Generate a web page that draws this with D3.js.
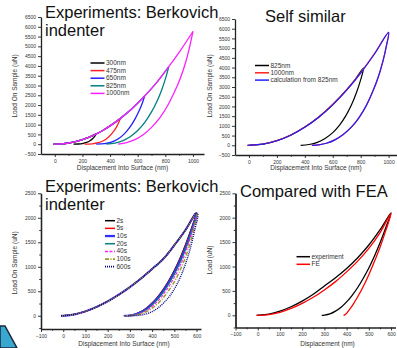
<!DOCTYPE html>
<html><head><meta charset="utf-8">
<script src="https://cdn.jsdelivr.net/npm/d3@7"></script>
<style>
body{margin:0;background:#fff;}
svg{display:block;font-family:"Liberation Sans",Arial,sans-serif;}
</style></head>
<body><svg id="c" width="397" height="348"></svg>
<script>
// ---------- DATA ----------
// Panel 1: Experiments, different max depths
const p1Names = ["300nm","475nm","650nm","825nm","1000nm"];
const p1Colors = ["#000000","#ff2020","#2020ff","#008080","#ff20ff"];
const p1Loading = [[-10,0],[0,3],[50,18],[100,62],[150,135],[200,235],[250,365],[300,525],[350,715],[400,935],[475,1320],[550,1760],[650,2460],[740,3170],[825,3960],[910,4800],[1000,5760]];
const p1MaxDepth = [300,475,650,825,1000];
const p1Unload300 = [[300,525],[290,410],[275,290],[255,180],[230,90],[200,35],[170,10],[135,0]];
const p1Unload475 = [[475,1320],[462,1100],[445,860],[420,600],[390,370],[355,190],[315,75],[270,18],[215,0]];
const p1Unload650 = [[650,2460],[635,2130],[612,1730],[580,1280],[545,880],[505,540],[460,280],[410,110],[360,30],[300,0]];
const p1Unload825 = [[825,3960],[805,3440],[775,2800],[740,2200],[700,1650],[650,1100],[600,700],[545,380],[490,170],[435,50],[372,0]];
const p1Unload1000 = [[1000,5760],[980,5100],[950,4250],[910,3400],[865,2650],[815,1950],[760,1350],[700,860],[640,480],[580,230],[520,80],[458,0]];
const p1Unloads = [p1Unload300,p1Unload475,p1Unload650,p1Unload825,p1Unload1000];

// Panel 2: self similar
const p2Names = ["825nm","1000nm","calculation from 825nm"];
const p2Colors = ["#000000","#ff2020","#2020ff"];
const p2Black = [[-10,0],[0,3],[100,62],[200,240],[300,530],[400,940],[500,1460],[600,2100],[700,2860],[760,3380],[820,3980],[800,3380],[770,2720],[735,2100],[695,1540],[650,1050],[600,650],[545,350],[490,150],[430,40],[370,0]];
const p2Red = [[-10,0],[0,3],[100,62],[200,240],[300,530],[400,940],[500,1460],[600,2100],[700,2860],[800,3740],[900,4730],[1000,5820],[985,5150],[960,4350],[925,3500],[885,2750],[840,2050],[790,1450],[735,950],[675,560],[615,280],[555,105],[500,25],[450,0]];
const p2Blue = [[-10,0],[0,2],[100,58],[200,232],[300,520],[400,925],[500,1440],[600,2080],[700,2840],[800,3720],[900,4710],[1000,5810],[985,5140],[960,4340],[925,3490],[885,2740],[840,2040],[790,1440],[735,945],[675,555],[615,278],[555,104],[500,25],[452,0]];
const p2Series = [p2Black,p2Red,p2Blue];

// Panel 3: hold times
const p3Names = ["2s","5s","10s","20s","40s","100s","600s"];
const p3Colors = ["#000000","#ff0000","#3030ff","#008080","#ff20ff","#9a9a20","#000090"];
const p3Dash = [null,null,null,null,"3,1.5","4,1.5,1,1.5","1,1"];
const p3Width = [1.2,1.2,2,1.2,1.2,1.4,1.4];
const p3Loading = [[-10,0],[0,2],[50,28],[100,90],[150,180],[200,295],[250,430],[300,585],[350,760],[400,955],[450,1160],[500,1440],[550,1750],[597,2090]];
const p3Unload2 = [[598,2090],[575,1760],[550,1450],[525,1170],[500,930],[475,720],[450,540],[425,385],[400,260],[375,160],[350,85],[325,35],[300,8],[272,0]];
const p3Unload5 = [[599,2090],[577,1760],[552,1450],[527,1170],[502,930],[477,720],[452,540],[427,385],[402,260],[377,160],[352,85],[327,35],[302,8],[274,0]];
const p3Unload10 = [[600,2088],[579,1760],[555,1450],[530,1170],[505,930],[480,720],[455,540],[430,385],[405,260],[380,160],[355,85],[330,35],[305,8],[276,0]];
const p3Unload20 = [[600,2086],[580,1750],[557,1440],[533,1160],[508,920],[483,710],[458,530],[433,380],[408,255],[383,155],[358,82],[333,33],[308,8],[278,0]];
const p3Unload40 = [[601,2085],[582,1740],[560,1420],[537,1140],[513,900],[488,690],[463,515],[438,365],[413,245],[388,150],[362,78],[336,30],[310,7],[280,0]];
const p3Unload100 = [[602,2083],[585,1720],[565,1390],[543,1110],[520,870],[496,660],[471,490],[446,345],[421,228],[395,138],[368,70],[340,26],[313,6],[283,0]];
const p3Unload600 = [[605,2080],[589,1700],[571,1360],[551,1070],[530,820],[508,610],[485,440],[460,300],[435,190],[410,110],[382,50],[352,16],[322,3],[290,0]];
const p3Unloads = [p3Unload2,p3Unload5,p3Unload10,p3Unload20,p3Unload40,p3Unload100,p3Unload600];

// Panel 4: compared with FEA
const p4Names = ["experiment","FE"];
const p4Colors = ["#000000","#ff0000"];
const p4Exp = [[-5,0],[0,1],[50,25],[100,85],[150,175],[200,290],[250,430],[300,600],[350,770],[400,960],[450,1180],[500,1440],[550,1750],[600,2100],[575,1780],[550,1480],[525,1210],[500,970],[475,760],[450,570],[425,410],[400,275],[375,165],[350,85],[325,30],[300,5],[288,0]];
const p4FE = [[-5,0],[0,0],[50,15],[100,60],[150,140],[200,245],[250,370],[300,520],[350,690],[400,890],[450,1110],[500,1370],[550,1690],[600,2090],[575,1720],[550,1390],[525,1100],[500,830],[475,590],[450,380],[430,230],[415,130],[405,70],[398,30],[392,10],[386,0]];
const p4Series = [p4Exp,p4FE];

// Tick values
const p12XTicks = [0,200,400,600,800,1000];
const p12XMinor = [-100,100,300,500,700,900,1100];
const p12YTicks = [-500,0,500,1000,1500,2000,2500,3000,3500,4000,4500,5000,5500,6000,6500];
const p34XTicks = [-100,0,100,200,300,400,500,600];
const p34XMinor = [-50,50,150,250,350,450,550];
const p34YTicks = [0,500,1000,1500,2000,2500];
const p34YMinor = [-250,250,750,1250,1750,2250];

// ---------- DRAW ----------
const svg = d3.select("#c");
const line = (x,y)=>d3.line().x(d=>x(d[0])).y(d=>y(d[1])).curve(d3.curveMonotoneX);
const lineN = (x,y)=>d3.line().x(d=>x(d[0])).y(d=>y(d[1])).curve(d3.curveCatmullRom.alpha(0.5));

function axes(g, x, y, o){
  const xa = g.append("g").attr("transform",`translate(0,${y.range()[0]})`)
    .call(d3.axisBottom(x).tickValues(o.xt).tickSize(3).tickSizeOuter(0).tickPadding(2).tickFormat(d3.format("d")));
  const xm = g.append("g").attr("transform",`translate(0,${y.range()[0]})`)
    .call(d3.axisBottom(x).tickValues(o.xm.filter(v=>v>x.domain()[0] && v<x.domain()[1])).tickSize(1.8).tickSizeOuter(0).tickFormat(""));
  const ya = g.append("g").attr("transform",`translate(${x.range()[0]},0)`)
    .call(d3.axisLeft(y).tickValues(o.yt).tickSize(3).tickSizeOuter(0).tickPadding(2).tickFormat(d3.format("d")));
  if(o.ym){
    g.append("g").attr("transform",`translate(${x.range()[0]},0)`)
      .call(d3.axisLeft(y).tickValues(o.ym).tickSize(1.8).tickSizeOuter(0).tickFormat(""));
  }
  g.selectAll(".domain").attr("stroke","#222").attr("stroke-width",1.3);
  g.selectAll(".tick line").attr("stroke","#222").attr("stroke-width",0.9);
  g.selectAll(".tick text").attr("font-size",5).attr("fill","#333");
  xm.select(".domain").remove();
  g.append("text").attr("x",(x.range()[0]+x.range()[1])/2+(o.xtdx||0)).attr("y",o.xty)
    .attr("text-anchor","middle").attr("font-size",6.5).attr("fill","#333").text(o.xtitle);
  g.append("text").attr("transform",`translate(${o.ytx},${o.yty}) rotate(-90)`)
    .attr("text-anchor","middle").attr("font-size",6.5).attr("fill","#333").text(o.ytitle);
}

function legend(g, names, colors, x0, y0, dy, len, dashes, widths){
  names.forEach((n,i)=>{
    const yy = y0 + i*dy;
    g.append("line").attr("x1",x0).attr("x2",x0+len).attr("y1",yy).attr("y2",yy)
      .attr("stroke",colors[i]).attr("stroke-width",widths?widths[i]+0.3:1.5)
      .attr("stroke-dasharray",dashes?dashes[i]:null);
    g.append("text").attr("x",x0+len+1.5).attr("y",yy+2).attr("font-size",6.5).attr("fill","#333").text(n);
  });
}

// Panel 1
{
  const g = svg.append("g");
  const x = d3.scaleLinear().domain([-100,1080]).range([41,204]);
  const y = d3.scaleLinear().domain([-500,6500]).range([154,17]);
  axes(g,x,y,{xt:p12XTicks,xm:p12XMinor,yt:p12YTicks,xtitle:"Displacement Into Surface (nm)",xty:170,ytitle:"Load On Sample (uN)",ytx:17,yty:86});
  p1Names.forEach((n,i)=>{
    const pts = p1Loading.filter(d=>d[0]<p1MaxDepth[i]).concat(p1Unloads[i]);
    const load = p1Loading.filter(d=>d[0]<=p1MaxDepth[i]);
    g.append("path").datum(load).attr("d",line(x,y)).attr("fill","none").attr("stroke",p1Colors[i]).attr("stroke-width",1.3);
    g.append("path").datum(p1Unloads[i]).attr("d",lineN(x,y)).attr("fill","none").attr("stroke",p1Colors[i]).attr("stroke-width",1.3);
  });
  legend(g,p1Names,p1Colors,90.5,63,7.6,14);
  g.append("text").attr("x",45).attr("y",18).attr("font-size",16.5).attr("fill","#111").text("Experiments: Berkovich");
  g.append("text").attr("x",45).attr("y",36).attr("font-size",16.5).attr("fill","#111").text("indenter");
}

// Panel 2
{
  const g = svg.append("g");
  const x = d3.scaleLinear().domain([-100,1060]).range([235,397]);
  const y = d3.scaleLinear().domain([-500,6500]).range([155,19]);
  axes(g,x,y,{xt:p12XTicks,xm:p12XMinor,yt:p12YTicks,xtitle:"Displacement Into Surface (nm)",xty:170,ytitle:"Load On Sample (uN)",ytx:212,yty:86});
  p2Series.forEach((s,i)=>{
    g.append("path").datum(s).attr("d",lineN(x,y)).attr("fill","none").attr("stroke",p2Colors[i]).attr("stroke-width",1.2);
  });
  legend(g,p2Names,p2Colors,255,65.5,7.3,14);
  g.append("text").attr("x",265).attr("y",22).attr("font-size",16.5).attr("fill","#111").text("Self similar");
}

// Panel 3
{
  const g = svg.append("g");
  const x = d3.scaleLinear().domain([-100,620]).range([41,201]);
  const y = d3.scaleLinear().domain([-270,2500]).range([329,193.3]);
  axes(g,x,y,{xt:p34XTicks,xm:p34XMinor,yt:p34YTicks,ym:p34YMinor,xtitle:"Displacement Into Surface (nm)",xty:346,xtdx:3,ytitle:"Load On Sample (uN)",ytx:17,yty:263});
  p3Names.forEach((n,i)=>{
    const pts = p3Loading.concat(p3Unloads[i]);
    g.append("path").datum(pts).attr("d",lineN(x,y)).attr("fill","none").attr("stroke",p3Colors[i])
      .attr("stroke-width",p3Width[i]).attr("stroke-dasharray",p3Dash[i]);
  });
  legend(g,p3Names,p3Colors,105,220.7,7.67,10,p3Dash,p3Width);
  g.append("text").attr("x",45).attr("y",192).attr("font-size",16.5).attr("fill","#111").text("Experiments: Berkovich");
  g.append("text").attr("x",45).attr("y",210).attr("font-size",16.5).attr("fill","#111").text("indenter");
}

// Panel 4
{
  const g = svg.append("g");
  const x = d3.scaleLinear().domain([-100,620]).range([235.5,395.5]);
  const y = d3.scaleLinear().domain([-250,2500]).range([327.5,193.3]);
  axes(g,x,y,{xt:p34XTicks,xm:p34XMinor,yt:p34YTicks,ym:p34YMinor,xtitle:"Displacement (nm)",xty:346,xtdx:12,ytitle:"Load (uN)",ytx:212,yty:260});
  p4Series.forEach((s,i)=>{
    g.append("path").datum(s).attr("d",lineN(x,y)).attr("fill","none").attr("stroke",p4Colors[i]).attr("stroke-width",1.3);
  });
  legend(g,p4Names,p4Colors,296.5,256.7,7.6,13.5);
  g.append("text").attr("x",240).attr("y",197).attr("font-size",16.5).attr("fill","#111").text("Compared with FEA");
}

// decorative corner shape from the slide
svg.append("path").attr("d","M0,326 L5,326 L17,348 L0,348 Z").attr("fill","#38a8d0").attr("stroke","#1a2a3a").attr("stroke-width",1.5);
</script></body></html>
